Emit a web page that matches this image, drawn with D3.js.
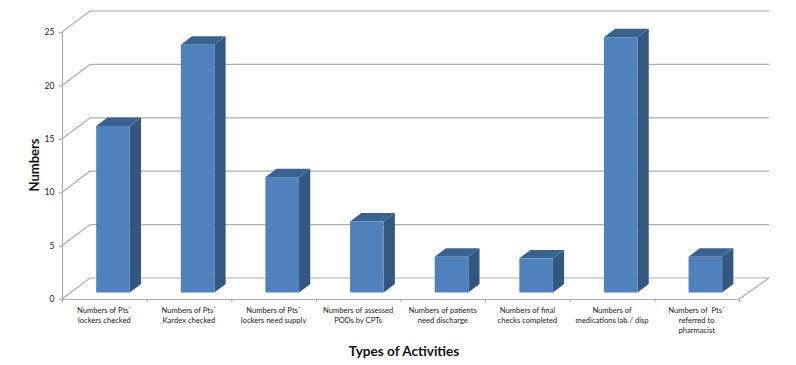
<!DOCTYPE html>
<html>
<head>
<meta charset="utf-8">
<script src="https://cdn.jsdelivr.net/npm/d3@7"></script>
<style>
  html, body { margin: 0; padding: 0; background: #fff; }
  svg { display: block; font-family: Lato, "Open Sans", sans-serif; }
</style>
</head>
<body>
<div id="chart"></div>
<script>
const categories = [
  ["Numbers of Pts`", "lockers checked"],
  ["Numbers of Pts`", "Kardex checked"],
  ["Numbers of Pts`", "lockers need supply"],
  ["Numbers of assessed", "PODs by CPTs"],
  ["Numbers of patients", "need discharge"],
  ["Numbers of final", "checks completed"],
  ["Numbers of", "medications lab / disp"],
  ["Numbers of  Pts`", "referred to", "pharmacist"]
];
const values = [15.6, 23.2, 10.8, 6.65, 3.35, 3.2, 23.9, 3.35];
const yTicks = [0, 5, 10, 15, 20, 25];

const width = 796, height = 365;
const plot = {left: 62, right: 739, top: 32, bottom: 299};
const depth = {x: 28, y: 21};     // floor offset, front edge to back wall
const barStart = 0.31, barDepth = 0.4;  // share of the floor depth
const barWidth = 33.6;

const lineColor = "#adadad";
const front = "#4f81bd", side = "#325880", top_ = "#3a6291";

const svg = d3.select("#chart").append("svg")
  .attr("width", width)
  .attr("height", height);

const x = d3.scaleBand()
  .domain(d3.range(categories.length))
  .range([plot.left, plot.right]);

const y = d3.scaleLinear()
  .domain([0, 25])
  .range([plot.bottom, plot.top]);

// gridlines on the wall, side wall and floor
const grid = svg.append("g").attr("fill", "none").attr("stroke", lineColor).attr("stroke-width", 1.2);
yTicks.forEach(t => {
  grid.append("path").attr("d", d3.line()([
    [plot.left, y(t)],
    [plot.left + depth.x, y(t) - depth.y],
    [plot.right + depth.x + 2, y(t) - depth.y]
  ]));
});
grid.append("path").attr("d", d3.line()([
  [plot.right, plot.bottom],
  [plot.right + depth.x + 2, plot.bottom - depth.y]
]));

// y axis
const yAxis = svg.append("g")
  .attr("transform", `translate(${plot.left},0)`)
  .call(d3.axisLeft(y).tickValues(yTicks).tickSize(3).tickPadding(4.5));
yAxis.selectAll("path, line").attr("stroke", lineColor).attr("stroke-width", 1.2);
yAxis.selectAll("text").attr("font-size", 8.6).attr("font-family", "Lato").attr("fill", "#222");

// x axis, ticks fall between categories
const xEdge = d3.scaleLinear().domain([0, categories.length]).range([plot.left, plot.right]);
const xAxis = svg.append("g")
  .attr("transform", `translate(0,${plot.bottom})`)
  .call(d3.axisBottom(xEdge).ticks(categories.length).tickSize(3).tickSizeOuter(3).tickFormat(""));
xAxis.selectAll("path, line").attr("stroke", lineColor).attr("stroke-width", 1.2);

// bars
const bars = svg.append("g").selectAll("g")
  .data(values)
  .enter()
  .append("g")
  .attr("transform", (d, i) => {
    const cx = x(i) + x.bandwidth() / 2 + depth.x * barStart;
    return `translate(${cx - barWidth / 2},${-depth.y * barStart})`;
  });

const dx = depth.x * barDepth, dy = depth.y * barDepth;

bars.append("path")
  .attr("fill", side)
  .attr("d", d => d3.line()([
    [barWidth, y(d)],
    [barWidth + dx, y(d) - dy],
    [barWidth + dx, y(0) - dy],
    [barWidth, y(0)]
  ]) + "Z");

bars.append("path")
  .attr("fill", top_)
  .attr("d", d => d3.line()([
    [0, y(d)],
    [dx, y(d) - dy],
    [barWidth + dx, y(d) - dy],
    [barWidth, y(d)]
  ]) + "Z");

bars.append("rect")
  .attr("x", 0)
  .attr("y", d => y(d))
  .attr("width", barWidth)
  .attr("height", d => y(0) - y(d))
  .attr("fill", front);

// category labels
const labels = svg.append("g").selectAll("text")
  .data(categories)
  .enter()
  .append("text")
  .attr("text-anchor", "middle")
  .attr("font-size", 7.6)
  .attr("fill", "#222")
  .attr("x", (d, i) => x(i) + x.bandwidth() / 2)
  .attr("y", 313);

labels.selectAll("tspan")
  .data(d => d)
  .enter()
  .append("tspan")
  .attr("x", function() { return this.parentNode.getAttribute("x"); })
  .attr("dy", (d, i) => i ? 9.8 : 0)
  .style("white-space", "pre")
  .text(d => d);

// axis titles
svg.append("text")
  .attr("transform", "translate(39,165) rotate(-90)")
  .attr("text-anchor", "middle")
  .attr("font-size", 13)
  .attr("font-weight", 700)
  .attr("fill", "#111")
  .text("Numbers");

svg.append("text")
  .attr("x", 404)
  .attr("y", 356)
  .attr("text-anchor", "middle")
  .attr("font-size", 13.6)
  .attr("font-weight", 700)
  .attr("fill", "#111")
  .text("Types of Activities");
</script>
</body>
</html>
